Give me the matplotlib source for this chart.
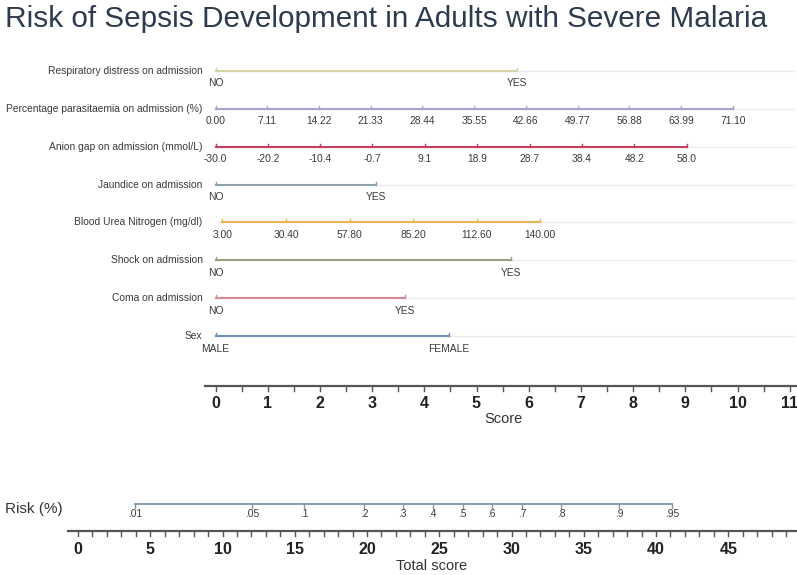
import numpy as np
import matplotlib
matplotlib.use("Agg")
import matplotlib.pyplot as plt

plt.rcParams['font.family'] = ['Liberation Sans', 'DejaVu Sans']

# ---- data ----
row_names = [
    "Respiratory distress on admission",
    "Percentage parasitaemia on admission (%)",
    "Anion gap on admission (mmol/L)",
    "Jaundice on admission",
    "Blood Urea Nitrogen (mg/dl)",
    "Shock on admission",
    "Coma on admission",
    "Sex",
]

# binary predictors: points for the second level
resp_points = 5.78
jaundice_points = 3.07
shock_points = 5.66
coma_points = 3.63
sex_points = 4.47

# continuous predictors: tick labels and points at the range ends
para_ticks = [0.00, 7.11, 14.22, 21.33, 28.44, 35.55, 42.66, 49.77, 56.88, 63.99, 71.10]
para_range = (0.0, 71.10)
para_points = (0.0, 9.91)

anion_ticks = [-30.0, -20.2, -10.4, -0.7, 9.1, 18.9, 28.7, 38.4, 48.2, 58.0]
anion_range = (-30.0, 58.0)
anion_points = (0.0, 9.03)

bun_ticks = [3.00, 30.40, 57.80, 85.20, 112.60, 140.00]
bun_range = (0.0, 140.0)
bun_points = (0.0, 6.22)

score_ticks = list(range(0, 12))

# risk scale: probability labels and total score where each sits
risk_labels = [".01", ".05", ".1", ".2", ".3", ".4", ".5", ".6", ".7", ".8", ".9", ".95"]
risk_total = [3.93, 12.07, 15.66, 19.79, 22.48, 24.55, 26.62, 28.62, 30.76, 33.45, 37.45, 41.10]
total_ticks = list(range(0, 50))
total_labels = [0, 5, 10, 15, 20, 25, 30, 35, 40, 45]

colors = ["#d6d3a8", "#aaa4cf", "#c2415f", "#8fa2ac",
          "#e6b655", "#97a384", "#d98b95", "#7090b3"]
row_y = [71, 109, 147, 185, 222, 260, 298, 336]

fig = plt.figure(figsize=(7.97, 5.75), dpi=100)
fig.patch.set_facecolor("white")

# top panel, x in points, y in pixels
ax = fig.add_axes([0, 0, 1, 1])
ax.set_xlim(-215.5 / 52.2, (797 - 215.5) / 52.2)
ax.set_ylim(575, 0)
ax.axis("off")

# bottom panel, x in total score
ax2 = fig.add_axes([0, 0, 1, 1])
ax2.set_xlim(-78 / 14.45, (797 - 78) / 14.45)
ax2.set_ylim(575, 0)
ax2.axis("off")
ax2.patch.set_alpha(0)

fig.text(0.006, 1 - 19 / 575, "Risk of Sepsis Development in Adults with Severe Malaria",
         fontsize=21.4, color="#2e3b4e", va="center", ha="left")

txt = "#3a3a3a"
lab_fs = 7.4
tick_up = 3.5


def scale(v, rng, pts):
    return pts[0] + (np.asarray(v) - rng[0]) / (rng[1] - rng[0]) * (pts[1] - pts[0])


def draw_row(y, name, color, xs, labels):
    ax.plot([0, 11.08], [y, y], color="#ebebeb", lw=1.0, zorder=1)
    ax.plot([xs[0], xs[-1]], [y, y], color=color, lw=1.5, zorder=2)
    for x, l in zip(xs, labels):
        ax.plot([x, x], [y, y - tick_up], color=color, lw=1.0, zorder=2)
        ax.text(x, y + 12.5, l, fontsize=lab_fs, color=txt, ha="center", va="center")
    ax.text(-13 / 52.2, y, name, fontsize=lab_fs, color=txt, ha="right", va="center")


draw_row(row_y[0], row_names[0], colors[0], [0, resp_points], ["NO", "YES"])
draw_row(row_y[1], row_names[1], colors[1], scale(para_ticks, para_range, para_points),
         [f"{v:.2f}" for v in para_ticks])
draw_row(row_y[2], row_names[2], colors[2], scale(anion_ticks, anion_range, anion_points),
         [f"{v:.1f}" for v in anion_ticks])
draw_row(row_y[3], row_names[3], colors[3], [0, jaundice_points], ["NO", "YES"])
draw_row(row_y[4], row_names[4], colors[4], scale(bun_ticks, bun_range, bun_points),
         [f"{v:.2f}" for v in bun_ticks])
draw_row(row_y[5], row_names[5], colors[5], [0, shock_points], ["NO", "YES"])
draw_row(row_y[6], row_names[6], colors[6], [0, coma_points], ["NO", "YES"])
draw_row(row_y[7], row_names[7], colors[7], [0, sex_points], ["MALE", "FEMALE"])

# score axis
axis_y = 386
ax.plot([-0.2, 11.2], [axis_y, axis_y], color="#555555", lw=1.6)
for t in np.arange(0, 11.5, 0.5):
    ax.plot([t, t], [axis_y, axis_y + 5], color="#555555", lw=1.0)
for t in score_ticks:
    ax.text(t, 404, str(t), fontsize=11.5, fontweight="bold", color="#222222",
            ha="center", va="center")
ax.text((503 - 215.5) / 52.2, 419, "Score", fontsize=10.5, color="#333333",
        ha="center", va="center")

# risk line
risk_y = 504
ax2.text(-73 / 14.45, risk_y + 5, "Risk (%)", fontsize=11, color="#333333",
         ha="left", va="center")
ax2.plot([risk_total[0], risk_total[-1]], [risk_y, risk_y], color="#7f95ad", lw=1.3)
for x, l in zip(risk_total, risk_labels):
    ax2.plot([x, x], [risk_y, risk_y + 3.5], color="#7f95ad", lw=1.0)
    ax2.text(x, risk_y + 10, l, fontsize=lab_fs, color=txt, ha="center", va="center")

# total score axis
tot_y = 531
ax2.plot([-0.7, 49.8], [tot_y, tot_y], color="#555555", lw=1.6)
for t in total_ticks:
    ax2.plot([t, t], [tot_y, tot_y + 5], color="#555555", lw=1.0)
for t in total_labels:
    ax2.text(t, 550, str(t), fontsize=11.5, fontweight="bold", color="#222222",
             ha="center", va="center")
ax2.text((432 - 78) / 14.45, 566, "Total score", fontsize=10.5, color="#333333",
         ha="center", va="center")

fig.savefig("out.png", dpi=100, facecolor="white")
